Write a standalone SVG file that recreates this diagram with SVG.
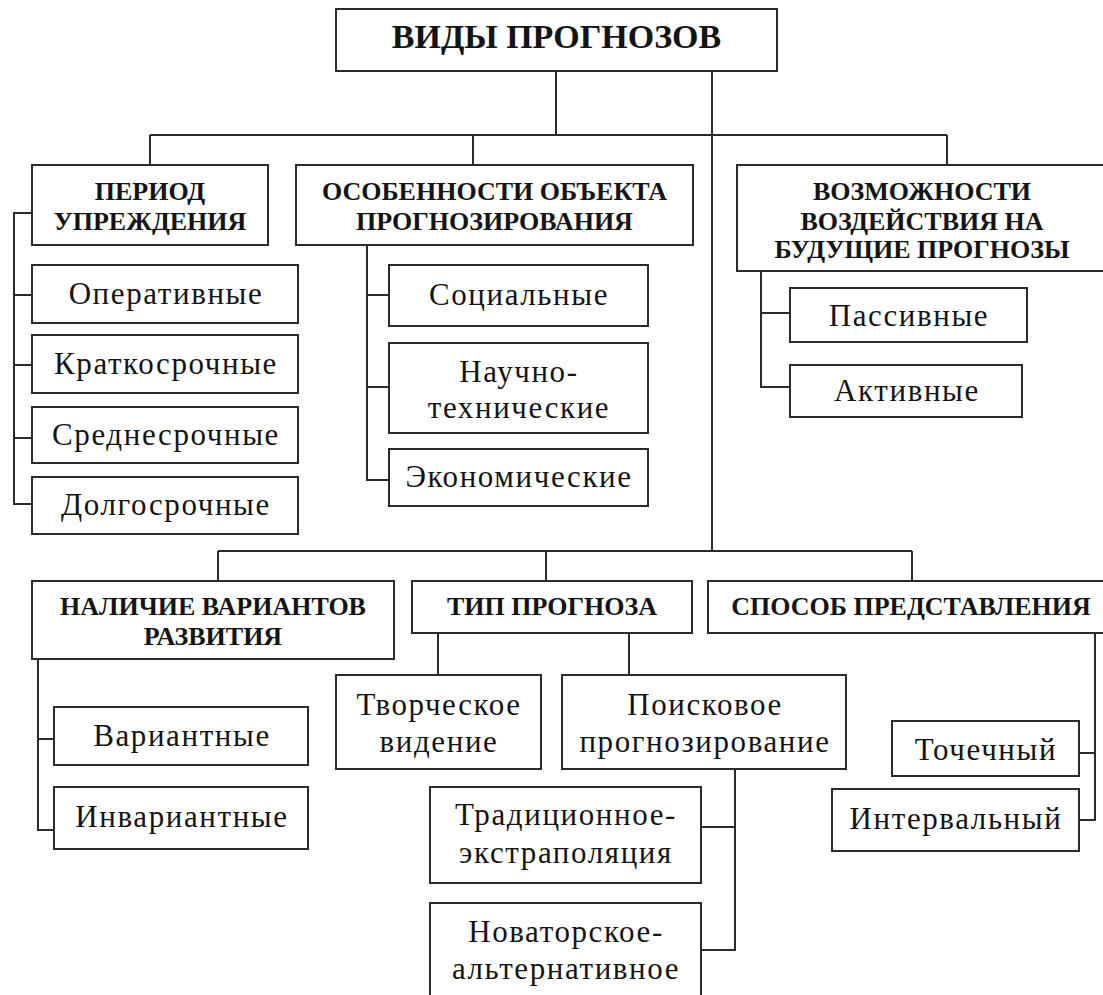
<svg xmlns="http://www.w3.org/2000/svg" width="1103" height="995" viewBox="0 0 1103 995" font-family="Liberation Serif, serif">
<style>
.b{fill:#fff;stroke:#2b2b2b;stroke-width:2}
.c{fill:none;stroke:#2b2b2b;stroke-width:2}
.h{font-weight:bold;font-size:26px;fill:#141414;text-anchor:middle}
.t{font-size:31px;letter-spacing:1.6px;fill:#141414;text-anchor:middle}
.big{font-size:34px}
</style>
<rect width="1103" height="995" fill="#fff"/>
<g id="connectors" class="c">
<path d="M556 71V135M712 71V551M150 135H947M150 135V165M473 135V165M947 135V165"/>
<path d="M32 213H14V504H32M14 295H32M14 365H32M14 438H32"/>
<path d="M367 245V480H389M367 295H389M367 387H389"/>
<path d="M761 271V387H790M761 313H790"/>
<path d="M218 551H912M218 551V581M546 551V581M912 551V581"/>
<path d="M38 659V830H54M38 739H54"/>
<path d="M438 633V675M629 633V675"/>
<path d="M735 769V950H701M701 827H735"/>
<path d="M1095 633V820H1079M1079 753H1095"/>
</g>
<g id="root"><rect class="b" x="336" y="9" width="441" height="62"/><text class="h big" x="556.5" y="48" font-family="Liberation Serif, serif">ВИДЫ ПРОГНОЗОВ</text></g>
<g id="period"><rect class="b" x="32" y="165" width="236" height="80"/><text class="h" x="150" y="200" font-family="Liberation Serif, serif">ПЕРИОД</text><text class="h" x="150" y="230" font-family="Liberation Serif, serif">УПРЕЖДЕНИЯ</text></g>
<g id="object"><rect class="b" x="296" y="165" width="397" height="80"/><text class="h" x="494.5" y="200" font-family="Liberation Serif, serif">ОСОБЕННОСТИ ОБЪЕКТА</text><text class="h" x="494.5" y="230" font-family="Liberation Serif, serif">ПРОГНОЗИРОВАНИЯ</text></g>
<g id="influence"><rect class="b" x="737" y="165" width="370" height="106"/><text class="h" x="922" y="200" font-family="Liberation Serif, serif">ВОЗМОЖНОСТИ</text><text class="h" x="922" y="230" font-family="Liberation Serif, serif">ВОЗДЕЙСТВИЯ НА</text><text class="h" x="922" y="258" font-family="Liberation Serif, serif">БУДУЩИЕ ПРОГНОЗЫ</text></g>
<g id="operative"><rect class="b" x="32" y="265" width="266" height="58"/><text class="t" x="166" y="304" font-family="Liberation Serif, serif">Оперативные</text></g>
<g id="short"><rect class="b" x="32" y="335" width="266" height="58"/><text class="t" x="166" y="374" font-family="Liberation Serif, serif">Краткосрочные</text></g>
<g id="medium"><rect class="b" x="32" y="407" width="266" height="56"/><text class="t" x="166" y="445" font-family="Liberation Serif, serif">Среднесрочные</text></g>
<g id="long"><rect class="b" x="32" y="477" width="266" height="57"/><text class="t" x="166" y="515" font-family="Liberation Serif, serif">Долгосрочные</text></g>
<g id="social"><rect class="b" x="389" y="265" width="259" height="61"/><text class="t" x="519" y="305" font-family="Liberation Serif, serif">Социальные</text></g>
<g id="scitech"><rect class="b" x="389" y="343" width="259" height="90"/><text class="t" x="519" y="382" font-family="Liberation Serif, serif">Научно-</text><text class="t" x="519" y="418" font-family="Liberation Serif, serif">технические</text></g>
<g id="economic"><rect class="b" x="389" y="449" width="259" height="57"/><text class="t" x="519" y="487" font-family="Liberation Serif, serif">Экономические</text></g>
<g id="passive"><rect class="b" x="790" y="288" width="237" height="54"/><text class="t" x="909" y="326" font-family="Liberation Serif, serif">Пассивные</text></g>
<g id="active"><rect class="b" x="790" y="365" width="232" height="52"/><text class="t" x="907" y="401" font-family="Liberation Serif, serif">Активные</text></g>
<g id="variants"><rect class="b" x="32" y="581" width="362" height="78"/><text class="h" x="213" y="615" font-family="Liberation Serif, serif">НАЛИЧИЕ ВАРИАНТОВ</text><text class="h" x="213" y="645" font-family="Liberation Serif, serif">РАЗВИТИЯ</text></g>
<g id="type"><rect class="b" x="412" y="581" width="280" height="52"/><text class="h" x="552" y="615" font-family="Liberation Serif, serif">ТИП ПРОГНОЗА</text></g>
<g id="presentation"><rect class="b" x="708" y="581" width="406" height="52"/><text class="h" x="911" y="615" font-family="Liberation Serif, serif">СПОСОБ ПРЕДСТАВЛЕНИЯ</text></g>
<g id="variant"><rect class="b" x="54" y="707" width="254" height="58"/><text class="t" x="182" y="746" font-family="Liberation Serif, serif">Вариантные</text></g>
<g id="invariant"><rect class="b" x="54" y="787" width="254" height="62"/><text class="t" x="182" y="827" font-family="Liberation Serif, serif">Инвариантные</text></g>
<g id="creative"><rect class="b" x="336" y="675" width="205" height="94"/><text class="t" x="439" y="715" font-family="Liberation Serif, serif">Творческое</text><text class="t" x="439" y="752" font-family="Liberation Serif, serif">видение</text></g>
<g id="search"><rect class="b" x="562" y="675" width="284" height="94"/><text class="t" x="705" y="715" font-family="Liberation Serif, serif">Поисковое</text><text class="t" x="705" y="752" font-family="Liberation Serif, serif">прогнозирование</text></g>
<g id="point"><rect class="b" x="892" y="721" width="187" height="55"/><text class="t" x="986" y="760" font-family="Liberation Serif, serif">Точечный</text></g>
<g id="interval"><rect class="b" x="832" y="789" width="247" height="62"/><text class="t" x="956" y="829" font-family="Liberation Serif, serif">Интервальный</text></g>
<g id="traditional"><rect class="b" x="430" y="787" width="271" height="96"/><text class="t" x="566" y="825" font-family="Liberation Serif, serif">Традиционное-</text><text class="t" x="566" y="863" font-family="Liberation Serif, serif">экстраполяция</text></g>
<g id="innovative"><rect class="b" x="430" y="903" width="271" height="100"/><text class="t" x="566" y="942" font-family="Liberation Serif, serif">Новаторское-</text><text class="t" x="566" y="979" font-family="Liberation Serif, serif">альтернативное</text></g>
</svg>
